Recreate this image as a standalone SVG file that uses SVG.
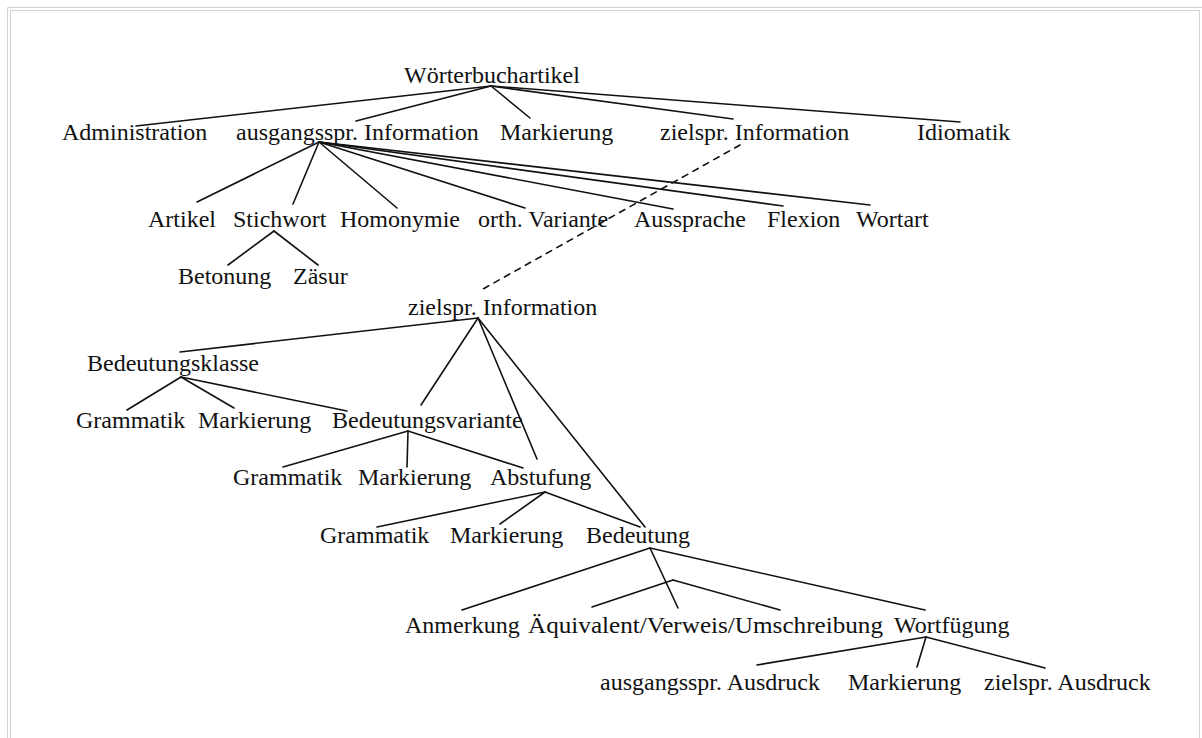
<svg xmlns="http://www.w3.org/2000/svg" width="1202" height="738" viewBox="0 0 1202 738">
<style>
text{font-family:"Liberation Serif","Times New Roman",serif;font-size:24px;fill:#111}
.c line{stroke:#111;stroke-width:1.6;stroke-linecap:round}
.d{stroke:#111;stroke-width:1.5;stroke-dasharray:6 6;fill:none}
.frame{fill:none;stroke:#d2d2d2;stroke-width:1}
</style>
<rect width="1202" height="738" fill="#fff"/>
<path class="frame" d="M7.5 738 V7.5 H1202"/>
<path class="frame" d="M10.5 738 V10.5 H1199.5 V738"/>

<g id="connectors" class="c">
  <!-- Wörterbuchartikel -->
  <line x1="491" y1="86" x2="136" y2="126"/>
  <line x1="491" y1="86" x2="356" y2="121"/>
  <line x1="491" y1="86" x2="530" y2="118"/>
  <line x1="491" y1="86" x2="733" y2="119"/>
  <line x1="491" y1="86" x2="960" y2="122"/>
  <!-- ausgangsspr. Information -->
  <line x1="319" y1="142" x2="197" y2="202"/>
  <line x1="319" y1="142" x2="293" y2="204"/>
  <line x1="319" y1="142" x2="397" y2="208"/>
  <line x1="319" y1="142" x2="525" y2="208"/>
  <line x1="319" y1="142" x2="673" y2="209"/>
  <line x1="319" y1="142" x2="783" y2="206"/>
  <line x1="319" y1="142" x2="870" y2="205"/>
  <!-- Stichwort -->
  <line x1="274" y1="231" x2="228" y2="265"/>
  <line x1="274" y1="231" x2="318" y2="265"/>
  <!-- dashed link -->
  <line class="d" x1="740" y1="145" x2="483" y2="289"/>
  <!-- zielspr. Information (lower) -->
  <line x1="478" y1="318" x2="180" y2="352"/>
  <line x1="478" y1="318" x2="421" y2="405"/>
  <line x1="478" y1="318" x2="537" y2="459"/>
  <line x1="478" y1="318" x2="645" y2="527"/>
  <!-- Bedeutungsklasse -->
  <line x1="181" y1="377" x2="127" y2="410"/>
  <line x1="181" y1="377" x2="234" y2="408"/>
  <line x1="181" y1="377" x2="347" y2="411"/>
  <!-- Bedeutungsvariante -->
  <line x1="408" y1="431" x2="283" y2="467"/>
  <line x1="408" y1="431" x2="407" y2="467"/>
  <line x1="408" y1="431" x2="523" y2="468"/>
  <!-- Abstufung -->
  <line x1="545" y1="492" x2="377" y2="527"/>
  <line x1="545" y1="492" x2="500" y2="524"/>
  <line x1="545" y1="492" x2="640" y2="527"/>
  <!-- Bedeutung -->
  <line x1="650" y1="548" x2="462" y2="610"/>
  <line x1="650" y1="548" x2="678" y2="608"/>
  <line x1="673" y1="580" x2="592" y2="607"/>
  <line x1="673" y1="580" x2="780" y2="610"/>
  <line x1="650" y1="548" x2="925" y2="610"/>
  <!-- Wortfügung -->
  <line x1="926" y1="637" x2="757" y2="665"/>
  <line x1="926" y1="637" x2="917" y2="667"/>
  <line x1="926" y1="637" x2="1045" y2="668"/>
</g>

<g id="n-woerterbuchartikel"><text x="404" y="83">Wörterbuchartikel</text></g>
<g id="n-administration"><text x="62" y="140">Administration</text></g>
<g id="n-ausgangsspr-information"><text x="236" y="140">ausgangsspr. Information</text></g>
<g id="n-markierung-1"><text x="500" y="140">Markierung</text></g>
<g id="n-zielspr-information-1"><text x="660" y="140">zielspr. Information</text></g>
<g id="n-idiomatik"><text x="917" y="140">Idiomatik</text></g>

<g id="n-artikel"><text x="148" y="227">Artikel</text></g>
<g id="n-stichwort"><text x="233" y="227">Stichwort</text></g>
<g id="n-homonymie"><text x="340" y="227">Homonymie</text></g>
<g id="n-orth-variante"><text x="478" y="227">orth. Variante</text></g>
<g id="n-aussprache"><text x="634" y="227">Aussprache</text></g>
<g id="n-flexion"><text x="767" y="227">Flexion</text></g>
<g id="n-wortart"><text x="856" y="227">Wortart</text></g>

<g id="n-betonung"><text x="178" y="284">Betonung</text></g>
<g id="n-zaesur"><text x="293" y="284">Zäsur</text></g>

<g id="n-zielspr-information-2"><text x="408" y="315">zielspr. Information</text></g>
<g id="n-bedeutungsklasse"><text x="87" y="371">Bedeutungsklasse</text></g>

<g id="n-grammatik-1"><text x="76" y="428">Grammatik</text></g>
<g id="n-markierung-2"><text x="198" y="428">Markierung</text></g>
<g id="n-bedeutungsvariante"><text x="332" y="428">Bedeutungsvariante</text></g>

<g id="n-grammatik-2"><text x="233" y="485">Grammatik</text></g>
<g id="n-markierung-3"><text x="358" y="485">Markierung</text></g>
<g id="n-abstufung"><text x="490" y="485">Abstufung</text></g>

<g id="n-grammatik-3"><text x="320" y="543">Grammatik</text></g>
<g id="n-markierung-4"><text x="450" y="543">Markierung</text></g>
<g id="n-bedeutung"><text x="586" y="543">Bedeutung</text></g>

<g id="n-anmerkung"><text x="405" y="633">Anmerkung</text></g>
<g id="n-aequivalent"><text x="528" y="633" textLength="355" lengthAdjust="spacingAndGlyphs">Äquivalent/Verweis/Umschreibung</text></g>
<g id="n-wortfuegung"><text x="894" y="633">Wortfügung</text></g>

<g id="n-ausgangsspr-ausdruck"><text x="600" y="690">ausgangsspr. Ausdruck</text></g>
<g id="n-markierung-5"><text x="848" y="690">Markierung</text></g>
<g id="n-zielspr-ausdruck"><text x="984" y="690">zielspr. Ausdruck</text></g>
</svg>
